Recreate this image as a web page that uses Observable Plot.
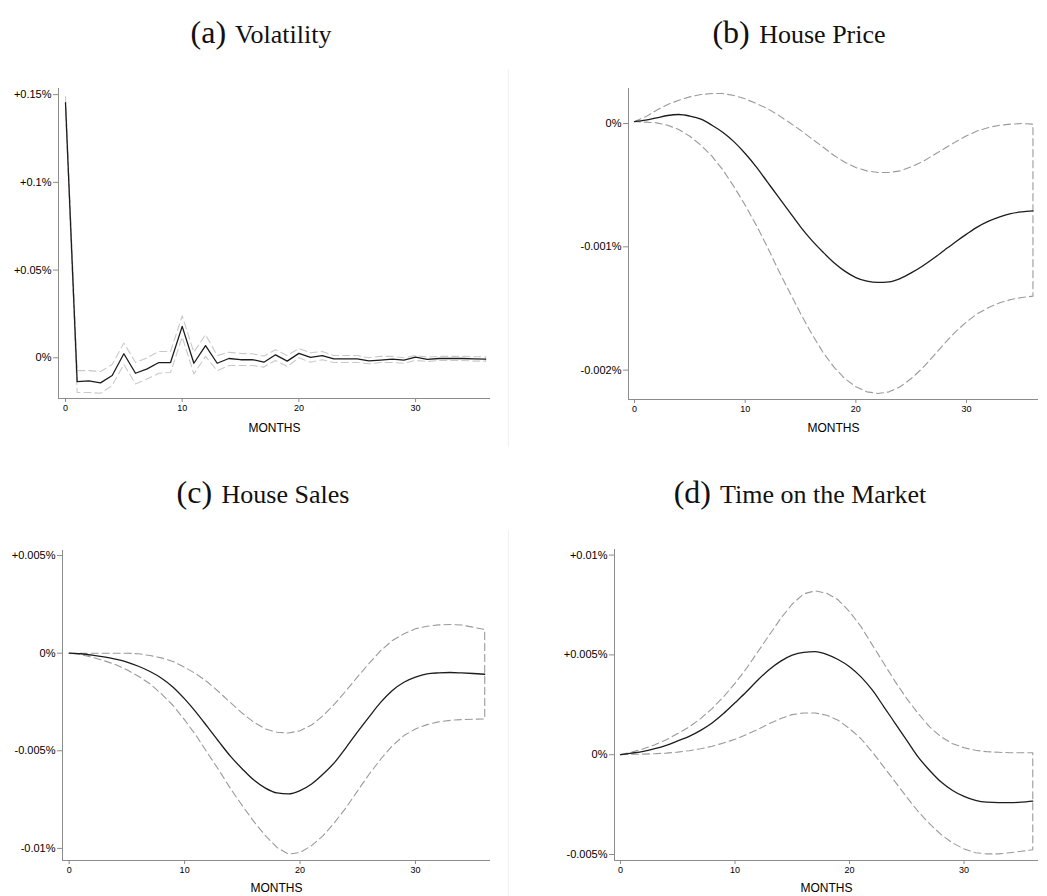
<!DOCTYPE html>
<html><head><meta charset="utf-8">
<script src="https://cdn.jsdelivr.net/npm/d3@7"></script>
<script src="https://cdn.jsdelivr.net/npm/@observablehq/plot@0.6"></script>
<style>
body{margin:0;background:#fff;}
#page{position:relative;width:1047px;height:896px;overflow:hidden;background:#fff;}
.title{position:absolute;width:400px;text-align:center;font-family:"Liberation Serif","Times New Roman",serif;color:#111;line-height:32px;white-space:nowrap;}
.title .lab{font-size:32px;}
.title .txt{font-size:26px;margin-left:3px;}
.panel{position:absolute;}
.sep{position:absolute;width:1px;background:#f0f0f0;}
</style></head><body>
<div id="page"></div>
<script>
// ---------------- data (values in percent) ----------------
const months = [0,1,2,3,4,5,6,7,8,9,10,11,12,13,14,15,16,17,18,19,20,21,22,23,24,25,26,27,28,29,30,31,32,33,34,35,36];

const titleLabels = ["(a)", "(b)", "(c)", "(d)"];
const titleTexts = ["Volatility", "House Price", "House Sales", "Time on the Market"];
const xTicks = [0, 10, 20, 30];
const xLabel = "MONTHS";

// (a) Volatility
const volMain  = [0.1454,-0.0136,-0.0132,-0.0143,-0.0101,0.0023,-0.0088,-0.0063,-0.0027,-0.0027,0.0179,-0.0031,0.0069,-0.0031,-0.0004,-0.0011,-0.0010,-0.0025,0.0017,-0.0019,0.0025,0.0002,0.0013,-0.0006,-0.0006,-0.0006,-0.0017,-0.0013,-0.0008,-0.0013,0.0004,-0.0009,-0.0004,-0.0004,-0.0004,-0.0006,-0.0008];
const volUpper = [0.1489,-0.0073,-0.0073,-0.0078,-0.0038,0.0084,-0.0027,0.0000,0.0036,0.0036,0.0239,0.0032,0.0132,0.0013,0.0032,0.0025,0.0023,0.0010,0.0046,0.0013,0.0053,0.0029,0.0036,0.0013,0.0013,0.0013,0.0000,0.0008,0.0008,0.0000,0.0013,0.0004,0.0008,0.0008,0.0008,0.0006,0.0006];
const volLower = [0.1416,-0.0198,-0.0198,-0.0202,-0.0158,-0.0038,-0.0149,-0.0120,-0.0088,-0.0084,0.0118,-0.0092,0.0008,-0.0073,-0.0044,-0.0044,-0.0044,-0.0053,-0.0015,-0.0050,0.0000,-0.0025,-0.0011,-0.0027,-0.0027,-0.0027,-0.0034,-0.0027,-0.0027,-0.0031,-0.0015,-0.0021,-0.0015,-0.0015,-0.0015,-0.0019,-0.0019];
const volTicks = [0, 0.05, 0.1, 0.15];
const volTickLabels = ["0%", "+0.05%", "+0.1%", "+0.15%"];

// (b) House Price
const priceMain  = [0.000016,0.000027,0.000046,0.000065,0.000073,0.000060,0.000035,-0.000014,-0.000073,-0.000149,-0.000243,-0.000351,-0.000473,-0.000595,-0.000716,-0.000838,-0.000946,-0.001040,-0.001127,-0.001197,-0.001249,-0.001278,-0.001289,-0.001284,-0.001257,-0.001211,-0.001157,-0.001095,-0.001027,-0.000960,-0.000897,-0.000838,-0.000792,-0.000757,-0.000730,-0.000716,-0.000708];
const priceUpper = [0.000016,0.000054,0.000108,0.000154,0.000189,0.000216,0.000235,0.000243,0.000243,0.000227,0.000200,0.000162,0.000122,0.000068,0.000008,-0.000054,-0.000122,-0.000189,-0.000257,-0.000314,-0.000357,-0.000384,-0.000397,-0.000397,-0.000384,-0.000351,-0.000311,-0.000257,-0.000203,-0.000149,-0.000100,-0.000059,-0.000032,-0.000014,-0.000005,0.000000,-0.000005];
const priceLower = [0.000016,0.000011,0.000005,-0.000014,-0.000049,-0.000103,-0.000176,-0.000265,-0.000378,-0.000514,-0.000662,-0.000824,-0.001000,-0.001189,-0.001365,-0.001541,-0.001703,-0.001851,-0.001973,-0.002068,-0.002135,-0.002176,-0.002189,-0.002176,-0.002135,-0.002068,-0.001986,-0.001886,-0.001784,-0.001689,-0.001608,-0.001541,-0.001492,-0.001454,-0.001427,-0.001411,-0.001400];
const priceTicks = [0, -0.001, -0.002];
const priceTickLabels = ["0%", "-0.001%", "-0.002%"];

// (c) House Sales
const salesMain  = [0,-0.00003,-0.00010,-0.00019,-0.00031,-0.00046,-0.00067,-0.00094,-0.00128,-0.00174,-0.00234,-0.00303,-0.00379,-0.00456,-0.00530,-0.00593,-0.00650,-0.00691,-0.00716,-0.00721,-0.00704,-0.00670,-0.00619,-0.00559,-0.00482,-0.00402,-0.00325,-0.00251,-0.00191,-0.00149,-0.00123,-0.00106,-0.00101,-0.00099,-0.00101,-0.00104,-0.00108];
const salesUpper = [0,0,0,0,0,0,-0.00003,-0.00012,-0.00024,-0.00043,-0.00072,-0.00106,-0.00149,-0.00200,-0.00255,-0.00308,-0.00354,-0.00388,-0.00405,-0.00409,-0.00397,-0.00368,-0.00320,-0.00260,-0.00191,-0.00120,-0.00051,0.00014,0.00065,0.00099,0.00125,0.00138,0.00145,0.00147,0.00144,0.00133,0.00121];
const salesLower = [0,-0.00007,-0.00021,-0.00038,-0.00058,-0.00085,-0.00118,-0.00157,-0.00209,-0.00268,-0.00342,-0.00422,-0.00513,-0.00602,-0.00696,-0.00781,-0.00863,-0.00935,-0.00995,-0.01029,-0.01021,-0.00986,-0.00935,-0.00867,-0.00790,-0.00704,-0.00619,-0.00542,-0.00474,-0.00422,-0.00388,-0.00366,-0.00352,-0.00344,-0.00340,-0.00338,-0.00337];
const salesTicks = [0.005, 0, -0.005, -0.01];
const salesTickLabels = ["+0.005%", "0%", "-0.005%", "-0.01%"];

// (d) Time on the Market
const tomMain  = [0,0.00008,0.00017,0.00030,0.00047,0.00069,0.00092,0.00122,0.00159,0.00206,0.00260,0.00315,0.00374,0.00427,0.00469,0.00499,0.00513,0.00516,0.00503,0.00477,0.00441,0.00390,0.00323,0.00240,0.00156,0.00072,-0.00012,-0.00079,-0.00137,-0.00179,-0.00209,-0.00229,-0.00238,-0.00240,-0.00240,-0.00238,-0.00233];
const tomUpper = [0,0.00013,0.00030,0.00050,0.00075,0.00106,0.00139,0.00181,0.00231,0.00290,0.00357,0.00432,0.00516,0.00600,0.00683,0.00755,0.00806,0.00821,0.00809,0.00776,0.00717,0.00642,0.00549,0.00457,0.00365,0.00281,0.00206,0.00139,0.00089,0.00055,0.00035,0.00022,0.00015,0.00012,0.00010,0.00010,0.00010];
const tomLower = [0,0.00002,0.00003,0.00005,0.00008,0.00013,0.00020,0.00030,0.00042,0.00059,0.00077,0.00101,0.00127,0.00156,0.00181,0.00201,0.00209,0.00209,0.00198,0.00173,0.00131,0.00080,0.00013,-0.00062,-0.00137,-0.00213,-0.00285,-0.00347,-0.00400,-0.00442,-0.00472,-0.00491,-0.00497,-0.00497,-0.00491,-0.00484,-0.00476];
const tomTicks = [0.01, 0.005, 0, -0.005];
const tomTickLabels = ["+0.01%", "+0.005%", "0%", "-0.005%"];

// ---------------- layout ----------------
const page = document.getElementById("page");

const panels = [
  {main: volMain, upper: volUpper, lower: volLower, ticks: volTicks, labels: volTickLabels,
   band: "#c9c9c9", curve: "linear", left: 0, top: 70, width: 510, height: 380,
   mL: 58, mR: 20, mT: 18, mB: 52, xd: [-0.6, 36.42], yd: [-0.0232, 0.1535], lblDy: 33,
   tx: 261, ty: 43},
  {main: priceMain, upper: priceUpper, lower: priceLower, ticks: priceTicks, labels: priceTickLabels,
   band: "#9a9a9a", curve: "monotone-x", left: 520, top: 70, width: 527, height: 380,
   mL: 108, mR: 9, mT: 18, mB: 51, xd: [-0.54, 36.5], yd: [-0.002238, 0.000284], lblDy: 32,
   tx: 799, ty: 43},
  {main: salesMain, upper: salesUpper, lower: salesLower, ticks: salesTicks, labels: salesTickLabels,
   band: "#9a9a9a", curve: "monotone-x", left: 0, top: 530, width: 510, height: 366,
   mL: 62, mR: 20, mT: 20, mB: 36, xd: [-0.58, 36.5], yd: [-0.01062, 0.00526], lblDy: 31,
   tx: 263, ty: 503},
  {main: tomMain, upper: tomUpper, lower: tomLower, ticks: tomTicks, labels: tomTickLabels,
   band: "#9a9a9a", curve: "monotone-x", left: 520, top: 530, width: 527, height: 366,
   mL: 94, mR: 9, mT: 19, mB: 36, xd: [-0.52, 36.5], yd: [-0.0053, 0.01028], lblDy: 31,
   tx: 800, ty: 503}
];

// faint separators between the figure images
[[508, 70, 377], [508, 530, 366]].forEach(([x, y, h]) => {
  const s = document.createElement("div");
  s.className = "sep";
  s.style.left = x + "px"; s.style.top = y + "px"; s.style.height = h + "px";
  page.appendChild(s);
});

panels.forEach((p, k) => {
  // title
  const t = document.createElement("div");
  t.className = "title";
  t.style.left = (p.tx - 200) + "px";
  t.style.top = (p.ty - 27) + "px";
  const a = document.createElement("span"); a.className = "lab"; a.textContent = titleLabels[k];
  const b = document.createElement("span"); b.className = "txt"; b.textContent = " " + titleTexts[k];
  t.appendChild(a); t.appendChild(b);
  page.appendChild(t);

  const mainData = months.map((m, i) => ({m, v: p.main[i]}));
  const bandData = months.map((m, i) => ({m, v: p.upper[i]}))
    .concat(months.map((m, i) => ({m, v: p.lower[i]})).reverse());
  const lab = new Map(p.ticks.map((d, i) => [d, p.labels[i]]));

  const chart = Plot.plot({
    width: p.width, height: p.height,
    marginLeft: p.mL, marginRight: p.mR, marginTop: p.mT, marginBottom: p.mB,
    x: {domain: p.xd},
    y: {domain: p.yd},
    style: {fontFamily: "'Liberation Sans', Arial, sans-serif", color: "#000", background: "transparent", overflow: "visible"},
    marks: [
      Plot.line(bandData, {x: "m", y: "v", stroke: p.band, strokeWidth: 1.1, strokeDasharray: "7,4"}),
      Plot.line(mainData, {x: "m", y: "v", stroke: "#1c1c1c", strokeWidth: 1.3, curve: p.curve}),
      Plot.ruleX([p.xd[0]], {stroke: "#8c8c8c", strokeWidth: 1}),
      Plot.ruleY([p.yd[0]], {stroke: "#8c8c8c", strokeWidth: 1}),
      Plot.axisY({ticks: p.ticks, tickFormat: d => lab.get(d), tickSize: 5, tickPadding: 2,
                  fontSize: 11, stroke: "#8c8c8c", fill: "#000", label: null}),
      Plot.axisX({ticks: xTicks, tickFormat: d => String(d), tickSize: 4, tickPadding: 2,
                  fontSize: 9, stroke: "#8c8c8c", fill: "#000", label: null}),
      Plot.text([xLabel], {frameAnchor: "bottom", dy: p.lblDy, fontSize: 12, fill: "#000"})
    ]
  });
  chart.classList.add("panel");
  chart.style.left = p.left + "px";
  chart.style.top = p.top + "px";
  chart.style.position = "absolute";
  page.appendChild(chart);
});
</script>
</body></html>
